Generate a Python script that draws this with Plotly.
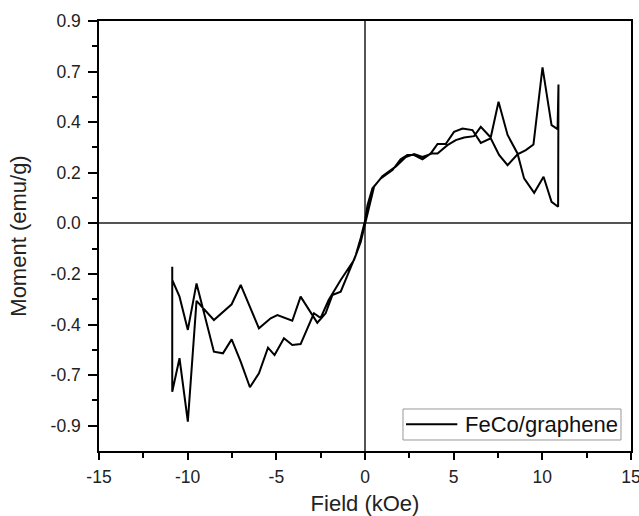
import plotly.graph_objects as go

# Hysteresis loop (single continuous measurement path)
field_koe = [
    10.91, 10.89, 10.52, 10.07, 9.54, 8.97, 8.60, 8.04, 7.53, 7.09, 6.53, 6.15,
    5.59, 5.12, 4.65, 4.09, 3.80, 3.24, 2.77, 2.30, 1.73, 0.98, 0.51, 0.14, 0.00,
    -0.24, -0.62, -1.37, -2.05, -2.50, -2.88, -3.63, -4.10, -4.57, -5.10, -5.47,
    -5.98, -6.49, -7.01, -7.52, -8.01, -8.52, -9.50, -9.99, -10.46, -10.87,
    -10.87, -10.87,
    -10.46, -9.99, -9.50, -8.52, -7.52, -7.01, -5.98, -5.32, -4.94, -4.10, -3.63,
    -2.69, -2.22, -1.84, -1.37, -0.98, -0.52, -0.24, 0.00,
    0.14, 0.42, 0.89, 1.55, 2.01, 2.39, 2.77, 3.24, 3.71, 4.09, 4.55, 5.02, 5.50,
    6.06, 6.53, 7.09, 7.56, 8.04, 8.60, 9.07, 9.50, 10.01, 10.52, 10.86, 10.91,
]
moment_emu_g = [
    0.618, 0.074, 0.096, 0.207, 0.136, 0.200, 0.311, 0.393, 0.541, 0.382, 0.429, 0.388,
    0.382, 0.370, 0.348, 0.311, 0.311, 0.295, 0.308, 0.295, 0.252, 0.210, 0.163, 0.044, 0.005,
    -0.083, -0.163, -0.252, -0.341, -0.421, -0.400, -0.537, -0.541, -0.511, -0.586, -0.553,
    -0.667, -0.729, -0.615, -0.516, -0.578, -0.571, -0.267, -0.474, -0.326, -0.252,
    -0.193, -0.749,
    -0.600, -0.882, -0.345, -0.430, -0.360, -0.274, -0.467, -0.422, -0.408, -0.433, -0.326,
    -0.442, -0.400, -0.319, -0.304, -0.230, -0.141, -0.065, 0.010,
    0.081, 0.156, 0.200, 0.237, 0.285, 0.304, 0.304, 0.285, 0.311, 0.353, 0.353, 0.407, 0.422,
    0.415, 0.358, 0.378, 0.304, 0.259, 0.307, 0.326, 0.351, 0.694, 0.437, 0.419, 0.618,
]

series_name = "FeCo/graphene"

y_tickvals = [-0.9, -0.675, -0.45, -0.225, 0.0, 0.225, 0.45, 0.675, 0.9]
y_ticktext = ["-0.9", "-0.7", "-0.4", "-0.2", "0.0", "0.2", "0.4", "0.7", "0.9"]
y_minorvals = [-0.7875, -0.5625, -0.3375, -0.1125, 0.1125, 0.3375, 0.5625, 0.7875]
x_tickvals = [-15, -10, -5, 0, 5, 10, 15]
x_ticktext = ["-15", "-10", "-5", "0", "5", "10", "15"]
x_minorvals = [-12.5, -7.5, -2.5, 2.5, 7.5, 12.5]

FONT = "Arial, Liberation Sans, sans-serif"
TXT = "#222222"

fig = go.Figure()
fig.add_trace(go.Scatter(
    x=field_koe, y=moment_emu_g, mode="lines", name=series_name,
    line=dict(color="black", width=2), showlegend=False,
))

axis_common = dict(
    showgrid=False, showline=True, linecolor="black", linewidth=1.5, mirror=True,
    ticks="outside", tickcolor="black", tickwidth=1.5,
    zeroline=True, zerolinecolor="#555555", zerolinewidth=1.5,
    tickfont=dict(family=FONT, size=17.5, color=TXT),
    automargin=False, ticklabeloverflow="allow",
)

fig.update_xaxes(
    **axis_common, range=[-15, 15], tickmode="array", tickvals=x_tickvals, ticktext=x_ticktext,
    ticklen=7, ticklabelstandoff=2,
    minor=dict(tickmode="array", tickvals=x_minorvals, ticklen=5, tickwidth=1.5, tickcolor="black", ticks="outside"),
    title=dict(text="Field (kOe)", font=dict(family=FONT, size=22, color=TXT), standoff=18),
)
fig.update_yaxes(
    **axis_common, range=[-1.0125, 0.9], tickmode="array", tickvals=y_tickvals, ticktext=y_ticktext,
    ticklen=9, ticklabelstandoff=4,
    minor=dict(tickmode="array", tickvals=y_minorvals, ticklen=5, tickwidth=1.5, tickcolor="black", ticks="outside"),
    title=dict(text="Moment (emu/g)", font=dict(family=FONT, size=22, color=TXT), standoff=18),
)

# Legend box drawn in paper coordinates (compact like the reference)
fig.add_shape(type="rect", xref="paper", yref="paper",
              x0=0.5714, x1=0.9812, y0=0.0256, y1=0.0977,
              line=dict(color="#999999", width=1), fillcolor="white", layer="above")
fig.add_shape(type="line", xref="paper", yref="paper",
              x0=0.5771, x1=0.6735, y0=0.0621, y1=0.0621,
              line=dict(color="black", width=2), layer="above")
fig.add_annotation(xref="paper", yref="paper", x=0.6848, y=0.0621,
                   xanchor="left", yanchor="middle", showarrow=False,
                   text=series_name, font=dict(family=FONT, size=22, color="#111111"))

fig.update_layout(
    width=639, height=516,
    margin=dict(l=99, r=8, t=21, b=65),
    paper_bgcolor="white", plot_bgcolor="white",
    showlegend=False,
)

fig.write_html("out.html")
